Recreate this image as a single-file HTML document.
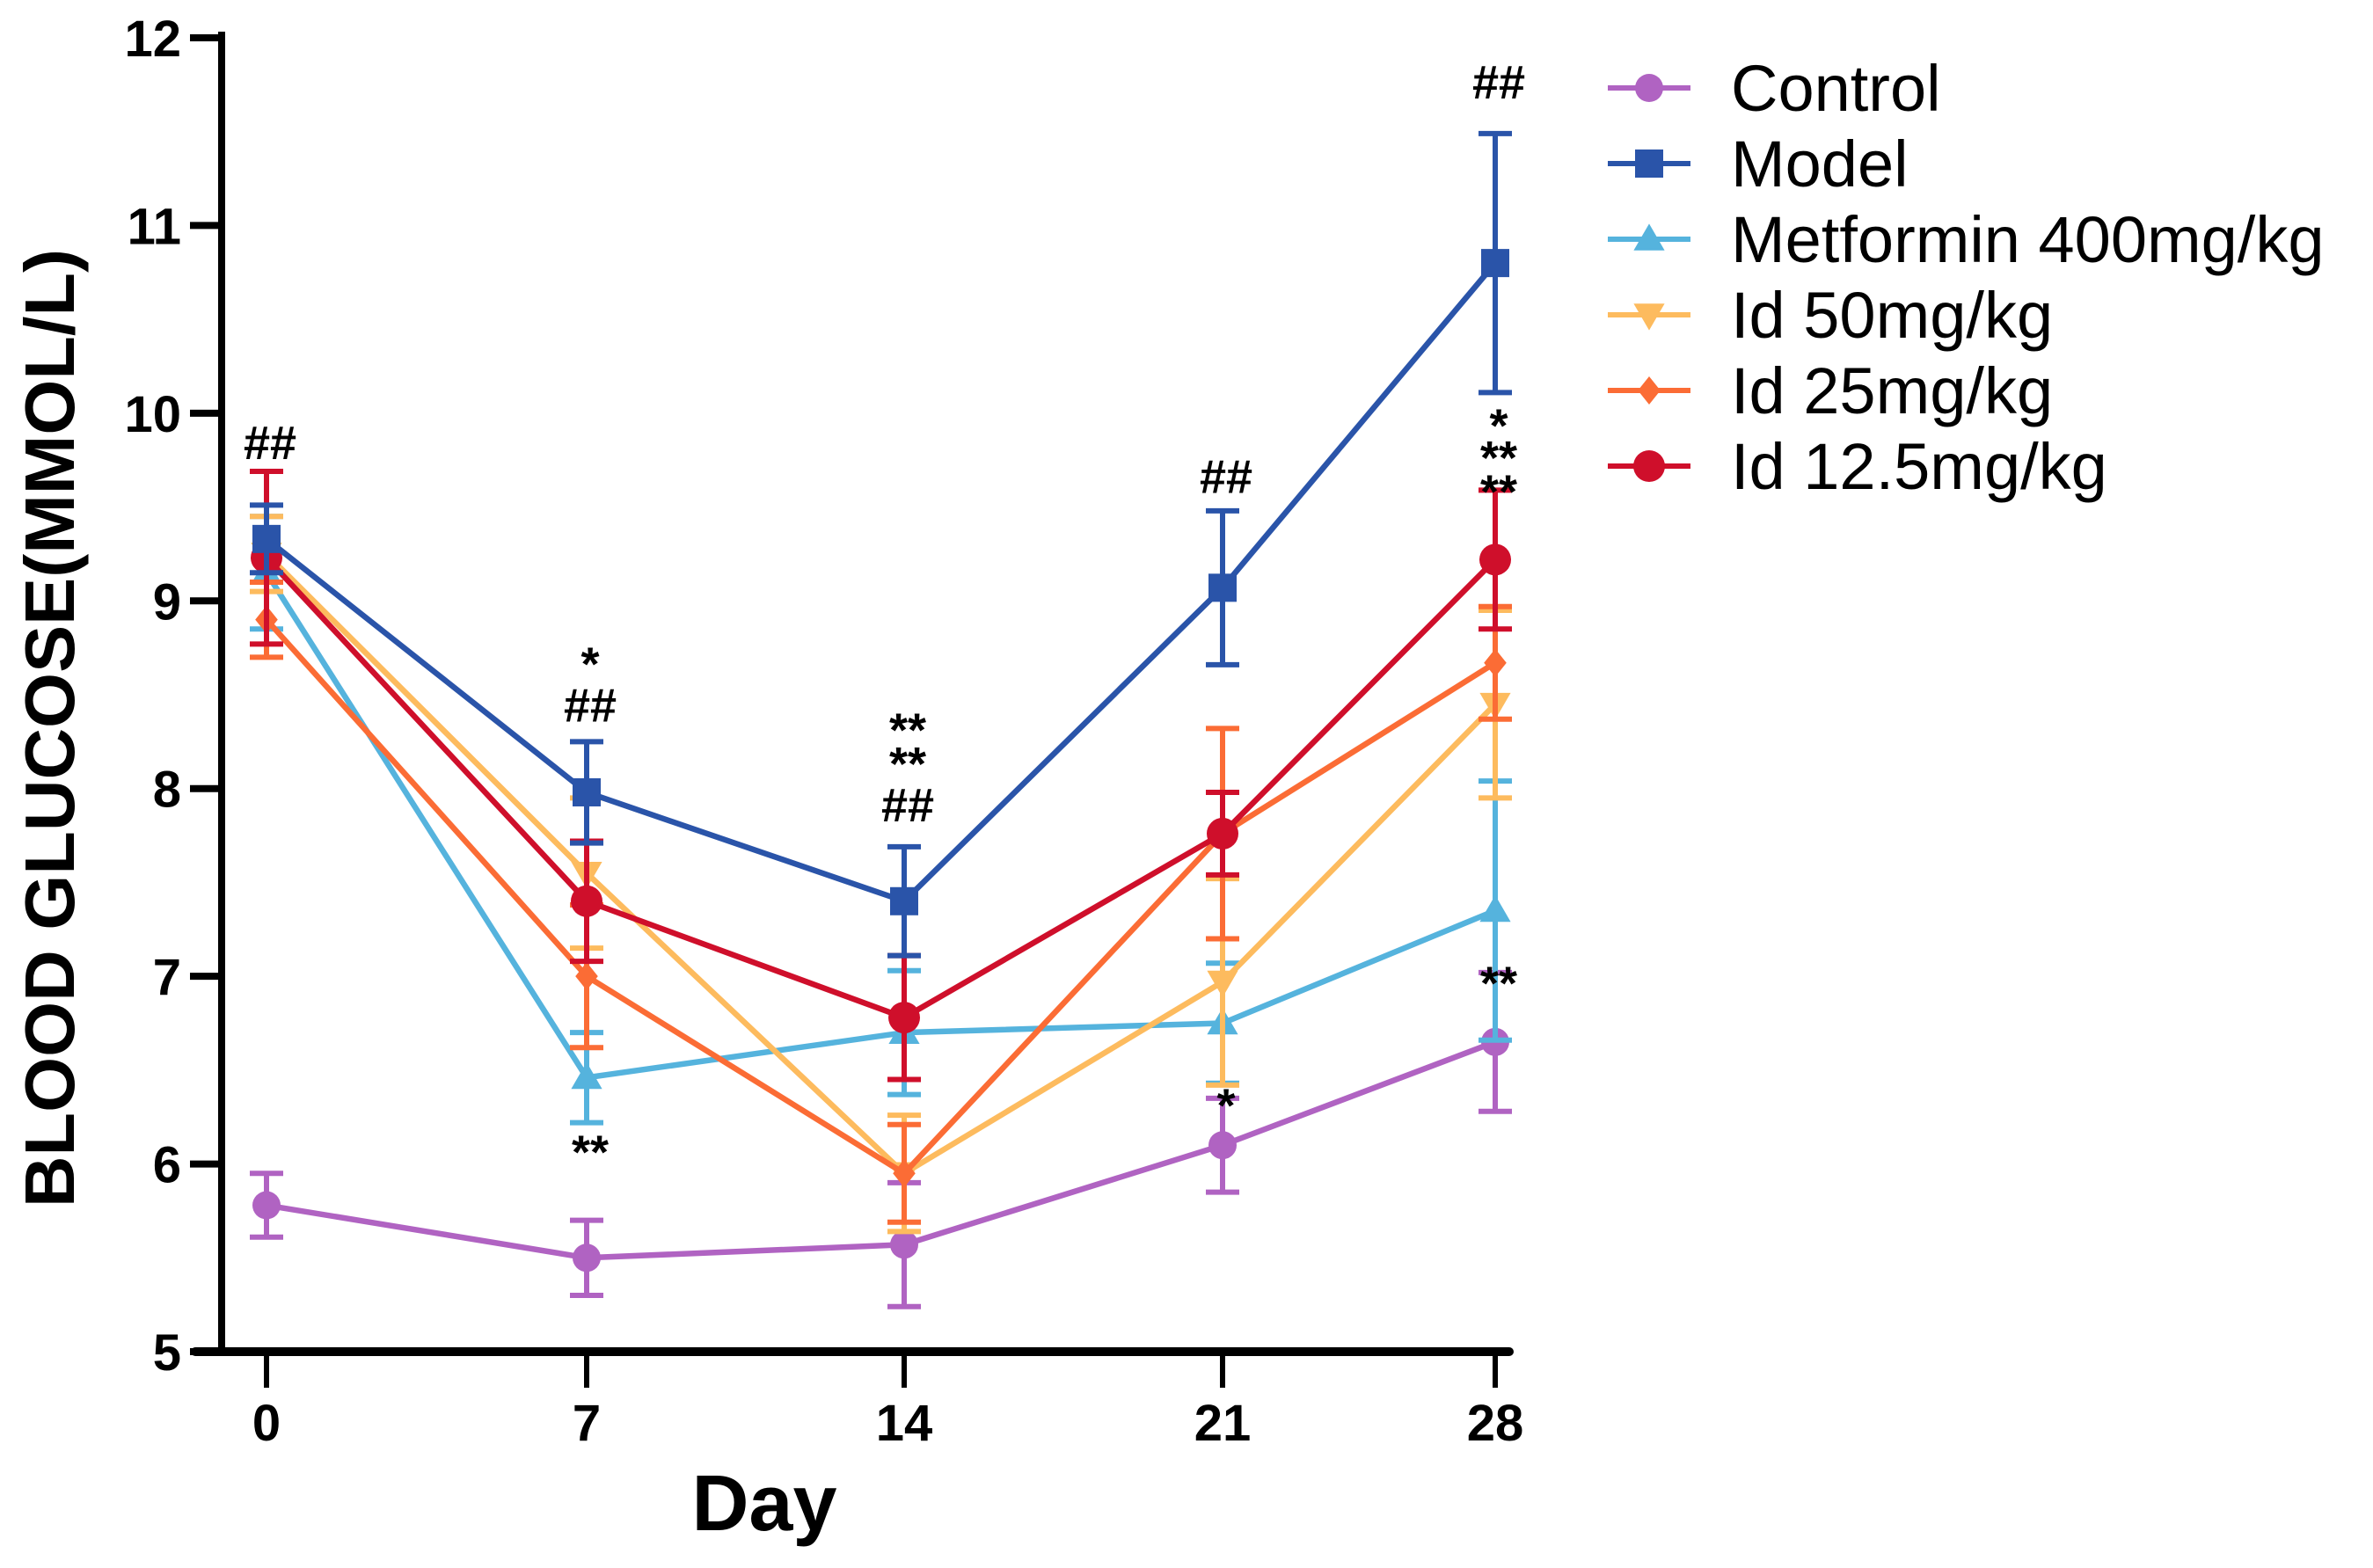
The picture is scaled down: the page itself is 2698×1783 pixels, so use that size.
<!DOCTYPE html>
<html><head><meta charset="utf-8"><style>
html,body{margin:0;padding:0;background:#fff;}
svg{display:block;font-family:"Liberation Sans",Arial,sans-serif;}
</style></head><body>
<svg id="chart" width="2698" height="1783" viewBox="0 0 2698 1783" xmlns="http://www.w3.org/2000/svg">
<g id="axes"></g>
<g id="series"></g>
<g id="annot"></g>
<g id="legend"></g>
<text x="869" y="1740" font-size="90" font-weight="bold" text-anchor="middle">Day</text>
<text transform="translate(84,828) rotate(-90)" font-size="80" font-weight="bold" text-anchor="middle" textLength="1090" lengthAdjust="spacingAndGlyphs">BLOOD GLUCOSE(MMOL/L)</text>
</svg>
<script>
const days = [0, 7, 14, 21, 28];
const yTicks = [5, 6, 7, 8, 9, 10, 11, 12];
const seriesNames = ["Control", "Model", "Metformin 400mg/kg", "Id 50mg/kg", "Id 25mg/kg", "Id 12.5mg/kg"];
const controlMean = [5.78, 5.5, 5.57, 6.1, 6.65];
const controlErr = [0.17, 0.2, 0.33, 0.25, 0.37];
const modelMean = [9.33, 7.98, 7.4, 9.07, 10.8];
const modelErr = [0.18, 0.27, 0.29, 0.41, 0.69];
const metforminMean = [9.15, 6.46, 6.7, 6.75, 7.35];
const metforminErr = [0.3, 0.24, 0.33, 0.32, 0.69];
const id50Mean = [9.25, 7.55, 5.95, 6.97, 8.45];
const id50Err = [0.2, 0.4, 0.31, 0.55, 0.5];
const id25Mean = [8.9, 7.0, 5.95, 7.76, 8.67];
const id25Err = [0.2, 0.38, 0.26, 0.56, 0.3];
const id12Mean = [9.23, 7.4, 6.78, 7.76, 9.22];
const id12Err = [0.46, 0.32, 0.33, 0.22, 0.37];
const annotDays = [0, 7, 7, 7, 14, 14, 14, 21, 21, 28, 28, 28, 28, 28];
const annotLevels = [9.85, 8.67, 8.45, 6.07, 8.32, 8.14, 7.92, 9.67, 6.32, 11.77, 9.94, 9.77, 9.59, 6.97];
const annotTexts = ["##", "*", "##", "**", "**", "**", "##", "##", "*", "##", "*", "**", "**", "**"];

const colors = ["#b063c2", "#2a54a9", "#55b3dd", "#fdbb5e", "#fb6c35", "#cf0f2b"];
const markers = ["circle", "square", "tri", "tridown", "diamond", "circle"];
const means = [controlMean, modelMean, metforminMean, id50Mean, id25Mean, id12Mean];
const errs = [controlErr, modelErr, metforminErr, id50Err, id25Err, id12Err];

const NS = "http://www.w3.org/2000/svg";
const xAnchorsPx = [303, 667, 1028, 1390, 1700];
function xScale(d) {
  for (let i = 0; i < days.length - 1; i++) {
    if (d <= days[i + 1]) {
      const t = (d - days[i]) / (days[i + 1] - days[i]);
      return xAnchorsPx[i] + t * (xAnchorsPx[i + 1] - xAnchorsPx[i]);
    }
  }
  return xAnchorsPx[xAnchorsPx.length - 1];
}
function yScale(v) { return 1537 - (v - 5) * (1537 - 43) / 7; }
function mk(tag, attrs, parent) {
  const e = document.createElementNS(NS, tag);
  for (const k in attrs) e.setAttribute(k, attrs[k]);
  parent.appendChild(e);
  return e;
}
const axes = document.getElementById("axes");
let el = mk("line", {x1: 252, y1: 36, x2: 252, y2: 1541, stroke: "#000", "stroke-width": 8}, axes);


el = mk("line", {x1: 222, y1: 1537, x2: 1716, y2: 1537, stroke: "#000", "stroke-width": 10, "stroke-linecap": "round"}, axes);


yTicks.forEach(v => {
  const y = yScale(v);
  let t = mk("line", {x1: 216, y1: y, x2: 252, y2: y, stroke: "#000", "stroke-width": 8}, axes);
  
  
  let l = mk("text", {x: 206, y: y + 21, "font-size": 58, "font-weight": "bold", "text-anchor": "end"}, axes);
  l.textContent = v;
  
  
});
days.forEach(d => {
  const x = xScale(d);
  let t = mk("line", {x1: x, y1: 1537, x2: x, y2: 1578, stroke: "#000", "stroke-width": 6}, axes);
  
  
  let l = mk("text", {x: x, y: 1638, "font-size": 58, "font-weight": "bold", "text-anchor": "middle"}, axes);
  l.textContent = d;
  
  
});
function marker(type, x, y, color, parent, s) {
  let e;
  if (type === "circle") e = mk("circle", {cx: x, cy: y, r: s, fill: color}, parent);
  else if (type === "square") e = mk("rect", {x: x - s, y: y - s, width: 2 * s, height: 2 * s, fill: color}, parent);
  else if (type === "tri") e = mk("polygon", {points: `${x},${y - s * 1.1} ${x - s * 1.1},${y + s * 0.8} ${x + s * 1.1},${y + s * 0.8}`, fill: color}, parent);
  else if (type === "tridown") e = mk("polygon", {points: `${x},${y + s * 1.1} ${x - s * 1.1},${y - s * 0.8} ${x + s * 1.1},${y - s * 0.8}`, fill: color}, parent);
  else e = mk("polygon", {points: `${x},${y - s} ${x + s * 0.8},${y} ${x},${y + s} ${x - s * 0.8},${y}`, fill: color}, parent);
  return e;
}
const sg = document.getElementById("series");
const order = [0, 2, 3, 4, 5, 1];
order.forEach(si => {
  const g = mk("g", {}, sg);
  
  
  const c = colors[si];
  days.forEach((d, i) => {
    const x = xScale(d), y1 = yScale(means[si][i] - errs[si][i]), y2 = yScale(means[si][i] + errs[si][i]);
    const eb = mk("path", {d: `M${x - 19},${y1}H${x + 19}M${x},${y1}V${y2}M${x - 19},${y2}H${x + 19}`, stroke: c, "stroke-width": 6, fill: "none"}, g);
    
    
  });
  const pts = days.map((d, i) => xScale(d) + "," + yScale(means[si][i])).join(" ");
  const ln = mk("polyline", {points: pts, stroke: c, "stroke-width": 6.5, fill: "none"}, g);
  
  
  days.forEach((d, i) => {
    const m = marker(markers[si], xScale(d), yScale(means[si][i]), c, g, si === 5 ? 18 : 16);
    
    
  });
});
const ag = document.getElementById("annot");
annotTexts.forEach((t, i) => {
  const a = mk("text", {x: xScale(annotDays[i]) + 4, y: yScale(annotLevels[i]) + 20, "font-size": 54, "font-weight": "bold", "text-anchor": "middle"}, ag);
  a.textContent = t;
  
  
});
const lg = document.getElementById("legend");
seriesNames.forEach((n, i) => {
  const y = 100 + i * 86;
  const g = mk("g", {}, lg);
  
  
  mk("line", {x1: 1828, y1: y, x2: 1922, y2: y, stroke: colors[i], "stroke-width": 6}, g);
  marker(markers[i], 1875, y, colors[i], g, i === 5 ? 18 : 16);
  const t = mk("text", {x: 1968, y: y + 26, "font-size": 74}, g);
  t.textContent = n;
});
</script>
</body></html>
